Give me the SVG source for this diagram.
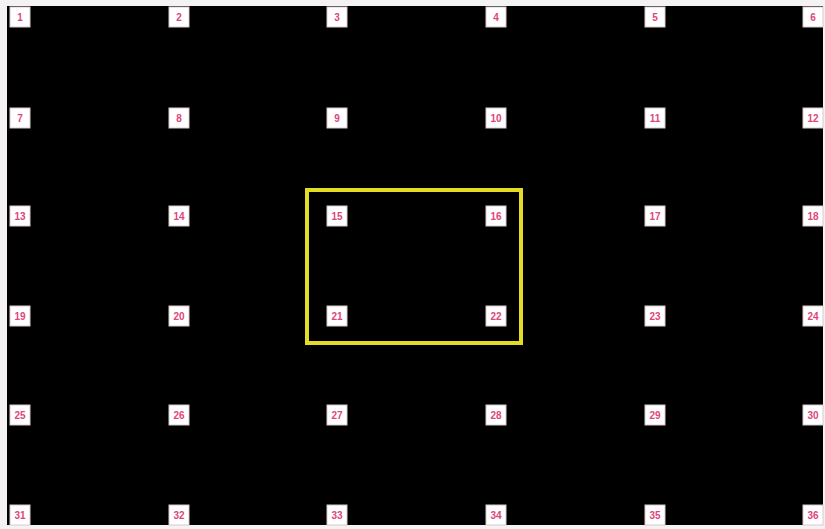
<svg xmlns="http://www.w3.org/2000/svg" width="825" height="529" viewBox="0 0 825 529">
<style>
.cell rect{fill:#ffffff;stroke:#d9c8cc;stroke-width:1}
.cell text{font-family:"Liberation Sans",Arial,sans-serif;font-size:10px;font-weight:bold;fill:#e0457a;text-anchor:middle;dominant-baseline:central}
.sel{fill:none;stroke:#e3dc24;stroke-width:4}
</style>
<rect x="0" y="0" width="825" height="529" fill="#f4f2f3"/>
<rect x="7" y="6" width="816" height="519" fill="#000000"/>
<g id="nodes">
<g id="n1" class="cell"><rect x="10" y="7" width="20" height="20"/><text x="20" y="17">1</text></g>
<g id="n2" class="cell"><rect x="169" y="7" width="20" height="20"/><text x="179" y="17">2</text></g>
<g id="n3" class="cell"><rect x="327" y="7" width="20" height="20"/><text x="337" y="17">3</text></g>
<g id="n4" class="cell"><rect x="486" y="7" width="20" height="20"/><text x="496" y="17">4</text></g>
<g id="n5" class="cell"><rect x="645" y="7" width="20" height="20"/><text x="655" y="17">5</text></g>
<g id="n6" class="cell"><rect x="803" y="7" width="20" height="20"/><text x="813" y="17">6</text></g>
<g id="n7" class="cell"><rect x="10" y="108" width="20" height="20"/><text x="20" y="118">7</text></g>
<g id="n8" class="cell"><rect x="169" y="108" width="20" height="20"/><text x="179" y="118">8</text></g>
<g id="n9" class="cell"><rect x="327" y="108" width="20" height="20"/><text x="337" y="118">9</text></g>
<g id="n10" class="cell"><rect x="486" y="108" width="20" height="20"/><text x="496" y="118">10</text></g>
<g id="n11" class="cell"><rect x="645" y="108" width="20" height="20"/><text x="655" y="118">11</text></g>
<g id="n12" class="cell"><rect x="803" y="108" width="20" height="20"/><text x="813" y="118">12</text></g>
<g id="n13" class="cell"><rect x="10" y="206" width="20" height="20"/><text x="20" y="216">13</text></g>
<g id="n14" class="cell"><rect x="169" y="206" width="20" height="20"/><text x="179" y="216">14</text></g>
<g id="n15" class="cell"><rect x="327" y="206" width="20" height="20"/><text x="337" y="216">15</text></g>
<g id="n16" class="cell"><rect x="486" y="206" width="20" height="20"/><text x="496" y="216">16</text></g>
<g id="n17" class="cell"><rect x="645" y="206" width="20" height="20"/><text x="655" y="216">17</text></g>
<g id="n18" class="cell"><rect x="803" y="206" width="20" height="20"/><text x="813" y="216">18</text></g>
<g id="n19" class="cell"><rect x="10" y="306" width="20" height="20"/><text x="20" y="316">19</text></g>
<g id="n20" class="cell"><rect x="169" y="306" width="20" height="20"/><text x="179" y="316">20</text></g>
<g id="n21" class="cell"><rect x="327" y="306" width="20" height="20"/><text x="337" y="316">21</text></g>
<g id="n22" class="cell"><rect x="486" y="306" width="20" height="20"/><text x="496" y="316">22</text></g>
<g id="n23" class="cell"><rect x="645" y="306" width="20" height="20"/><text x="655" y="316">23</text></g>
<g id="n24" class="cell"><rect x="803" y="306" width="20" height="20"/><text x="813" y="316">24</text></g>
<g id="n25" class="cell"><rect x="10" y="405" width="20" height="20"/><text x="20" y="415">25</text></g>
<g id="n26" class="cell"><rect x="169" y="405" width="20" height="20"/><text x="179" y="415">26</text></g>
<g id="n27" class="cell"><rect x="327" y="405" width="20" height="20"/><text x="337" y="415">27</text></g>
<g id="n28" class="cell"><rect x="486" y="405" width="20" height="20"/><text x="496" y="415">28</text></g>
<g id="n29" class="cell"><rect x="645" y="405" width="20" height="20"/><text x="655" y="415">29</text></g>
<g id="n30" class="cell"><rect x="803" y="405" width="20" height="20"/><text x="813" y="415">30</text></g>
<g id="n31" class="cell"><rect x="10" y="505" width="20" height="20"/><text x="20" y="515">31</text></g>
<g id="n32" class="cell"><rect x="169" y="505" width="20" height="20"/><text x="179" y="515">32</text></g>
<g id="n33" class="cell"><rect x="327" y="505" width="20" height="20"/><text x="337" y="515">33</text></g>
<g id="n34" class="cell"><rect x="486" y="505" width="20" height="20"/><text x="496" y="515">34</text></g>
<g id="n35" class="cell"><rect x="645" y="505" width="20" height="20"/><text x="655" y="515">35</text></g>
<g id="n36" class="cell"><rect x="803" y="505" width="20" height="20"/><text x="813" y="515">36</text></g>
</g>
<g id="connectors"></g>
<g id="selection"><rect class="sel" x="307" y="190" width="214" height="153"/></g>
</svg>
